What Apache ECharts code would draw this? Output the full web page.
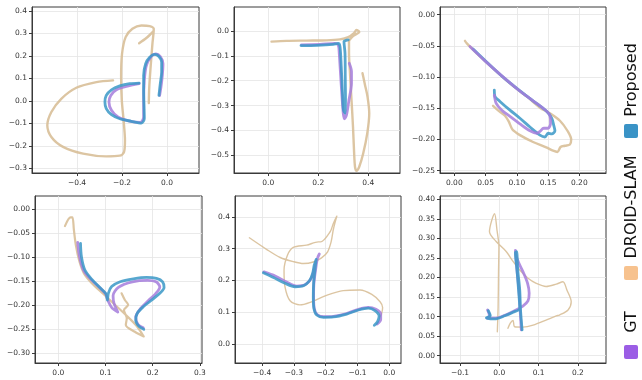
<!DOCTYPE html>
<html>
<head>
<meta charset="utf-8">
<script src="https://cdn.jsdelivr.net/npm/echarts@6/dist/echarts.min.js"></script>
<style>
html,body{margin:0;padding:0;background:#fff;}
#chart{width:642px;height:380px;}
</style>
</head>
<body>
<div id="chart"></div>
<script>
// ---------------- DATA ----------------
const SERIES_NAMES = ['GT', 'DROID-SLAM', 'Proposed'];

// Panel 1 (top-left)
const p1_xticks = [-0.4, -0.2, 0.0];
const p1_yticks = [-0.3, -0.2, -0.1, 0.0, 0.1, 0.2, 0.3, 0.4];
const p1_proposed = [[-0.124,0.080],[-0.166,0.077],[-0.210,0.067],[-0.247,0.050],[-0.270,0.025],[-0.276,-0.004],[-0.270,-0.034],[-0.247,-0.061],[-0.210,-0.079],[-0.159,-0.090],[-0.114,-0.098],[-0.101,-0.078],[-0.102,-0.027],[-0.104,0.047],[-0.104,0.114],[-0.095,0.166],[-0.077,0.195],[-0.055,0.207],[-0.036,0.198],[-0.024,0.173],[-0.024,0.129],[-0.030,0.077],[-0.036,0.025]];
const p1_gt = [[-0.124,0.077],[-0.181,0.065],[-0.225,0.050],[-0.250,0.025],[-0.258,-0.004],[-0.247,-0.041],[-0.218,-0.071],[-0.166,-0.089],[-0.119,-0.095],[-0.104,-0.071],[-0.104,0.003],[-0.101,0.092],[-0.092,0.158],[-0.070,0.198],[-0.050,0.210],[-0.030,0.198],[-0.018,0.166],[-0.021,0.114],[-0.027,0.062],[-0.033,0.025]];
const p1_droid = [[-0.240,0.092],[-0.314,0.084],[-0.403,0.059],[-0.470,0.010],[-0.514,-0.049],[-0.532,-0.108],[-0.514,-0.160],[-0.462,-0.204],[-0.373,-0.234],[-0.270,-0.246],[-0.210,-0.243],[-0.191,-0.226],[-0.187,-0.175],[-0.193,-0.086],[-0.201,0.003],[-0.204,0.107],[-0.200,0.210],[-0.184,0.284],[-0.154,0.321],[-0.114,0.336],[-0.077,0.333],[-0.059,0.321],[-0.065,0.254],[-0.073,0.151],[-0.079,0.062],[-0.081,-0.009],null,[-0.061,0.310],[-0.092,0.280],[-0.124,0.257]];

// Panel 2 (top-middle)
const p2_xticks = [0.0, 0.2, 0.4];
const p2_yticks = [-0.5, -0.4, -0.3, -0.2, -0.1, 0.0];
const p2_proposed = [[0.131,-0.059],[0.196,-0.058],[0.260,-0.054],[0.280,-0.050],[0.287,-0.063],[0.292,-0.143],[0.297,-0.251],[0.301,-0.318],[0.308,-0.331],[0.309,-0.277],[0.308,-0.184],[0.307,-0.090],[0.303,-0.043],[0.320,-0.036]];
const p2_gt = [[0.133,-0.056],[0.207,-0.054],[0.267,-0.050],[0.280,-0.056],[0.284,-0.090],[0.289,-0.170],[0.295,-0.264],[0.300,-0.331],[0.305,-0.353],[0.313,-0.338],[0.323,-0.277],[0.333,-0.210],[0.333,-0.164],[0.324,-0.130]];
const p2_droid = [[0.013,-0.043],[0.073,-0.040],[0.153,-0.039],[0.233,-0.038],[0.287,-0.034],[0.320,-0.025],[0.343,-0.009],[0.353,0.004],[0.364,-0.004],[0.340,-0.020],[0.323,-0.043],[0.323,-0.090],[0.327,-0.170],[0.333,-0.277],[0.339,-0.385],[0.343,-0.479],[0.347,-0.546],[0.353,-0.562],[0.364,-0.546],[0.380,-0.492],[0.396,-0.412],[0.404,-0.331],[0.397,-0.264],[0.387,-0.217],[0.377,-0.170]];

// Panel 3 (top-right)
const p3_xticks = [0.00, 0.05, 0.10, 0.15, 0.20];
const p3_yticks = [-0.25, -0.20, -0.15, -0.10, -0.05, 0.00];
const p3_proposed = [[0.030,-0.055],[0.053,-0.077],[0.078,-0.100],[0.105,-0.122],[0.126,-0.138],[0.148,-0.155],[0.156,-0.166],[0.159,-0.177],[0.161,-0.186],[0.156,-0.191],[0.150,-0.190],[0.145,-0.196],[0.137,-0.193],[0.121,-0.180],[0.105,-0.166],[0.089,-0.153],[0.073,-0.139],[0.065,-0.131],[0.064,-0.121]];
const p3_gt = [[0.025,-0.051],[0.049,-0.074],[0.076,-0.098],[0.102,-0.120],[0.126,-0.138],[0.147,-0.154],[0.153,-0.162],[0.154,-0.174],[0.150,-0.182],[0.143,-0.182],[0.137,-0.187],[0.132,-0.190],[0.121,-0.186],[0.105,-0.175],[0.089,-0.163],[0.076,-0.153],[0.067,-0.142],[0.064,-0.129]];
const p3_droid = [[0.017,-0.042],[0.020,-0.046],[0.036,-0.062],[0.062,-0.086],[0.089,-0.110],[0.116,-0.131],[0.137,-0.149],[0.153,-0.158],[0.169,-0.170],[0.181,-0.186],[0.187,-0.200],[0.185,-0.208],[0.177,-0.210],[0.170,-0.212],[0.165,-0.220],[0.158,-0.218],[0.148,-0.213],[0.126,-0.204],[0.105,-0.193],[0.093,-0.184],[0.087,-0.171],[0.081,-0.162],[0.072,-0.155],[0.062,-0.146]];

// Panel 4 (bottom-left)
const p4_xticks = [0.0, 0.1, 0.2, 0.3];
const p4_yticks = [-0.30, -0.25, -0.20, -0.15, -0.10, -0.05, 0.00];
const p4_proposed = [[0.047,-0.071],[0.049,-0.099],[0.056,-0.126],[0.071,-0.146],[0.088,-0.163],[0.101,-0.176],[0.104,-0.189],[0.106,-0.175],[0.113,-0.161],[0.131,-0.151],[0.159,-0.145],[0.187,-0.142],[0.208,-0.144],[0.221,-0.151],[0.224,-0.163],[0.215,-0.175],[0.198,-0.189],[0.180,-0.203],[0.167,-0.217],[0.164,-0.231],[0.171,-0.244],[0.181,-0.250]];
const p4_gt = [[0.041,-0.069],[0.045,-0.099],[0.053,-0.126],[0.068,-0.145],[0.086,-0.162],[0.100,-0.176],[0.106,-0.192],[0.114,-0.206],[0.126,-0.214],[0.118,-0.196],[0.116,-0.180],[0.128,-0.162],[0.157,-0.151],[0.189,-0.148],[0.207,-0.151],[0.215,-0.162],[0.206,-0.176],[0.190,-0.191],[0.174,-0.207],[0.164,-0.225],[0.169,-0.240],[0.180,-0.247]];
const p4_droid = [[0.014,-0.035],[0.026,-0.017],[0.030,-0.017],[0.033,-0.043],[0.037,-0.074],[0.044,-0.106],[0.054,-0.133],[0.071,-0.154],[0.095,-0.176],[0.120,-0.199],[0.145,-0.222],[0.166,-0.243],[0.181,-0.265],[0.162,-0.255],[0.143,-0.241],[0.145,-0.227],[0.139,-0.210],[0.148,-0.199],[0.141,-0.189],[0.134,-0.175]];

// Panel 5 (bottom-middle)
const p5_xticks = [-0.4, -0.3, -0.2, -0.1, 0.0];
const p5_yticks = [0.0, 0.1, 0.2, 0.3, 0.4];
const p5_proposed = [[-0.396,0.224],[-0.364,0.209],[-0.328,0.191],[-0.296,0.180],[-0.270,0.183],[-0.251,0.199],[-0.241,0.222],[-0.236,0.248],[-0.230,0.266],[-0.234,0.232],[-0.238,0.191],[-0.239,0.149],[-0.237,0.112],[-0.228,0.091],[-0.207,0.084],[-0.176,0.085],[-0.134,0.094],[-0.097,0.107],[-0.066,0.113],[-0.045,0.105],[-0.032,0.088],[-0.037,0.070],[-0.047,0.059]];
const p5_gt = [[-0.394,0.227],[-0.359,0.214],[-0.323,0.195],[-0.291,0.182],[-0.265,0.186],[-0.246,0.205],[-0.237,0.232],[-0.230,0.259],[-0.220,0.283],[-0.226,0.269],[-0.232,0.232],[-0.237,0.191],[-0.238,0.149],[-0.236,0.112],[-0.226,0.092],[-0.205,0.086],[-0.176,0.087],[-0.134,0.096],[-0.097,0.109],[-0.066,0.115],[-0.042,0.109],[-0.027,0.094],[-0.027,0.077],[-0.038,0.063]];
const p5_droid = [[-0.440,0.334],[-0.385,0.297],[-0.343,0.272],[-0.302,0.259],[-0.270,0.253],[-0.239,0.258],[-0.213,0.271],[-0.194,0.290],[-0.183,0.321],[-0.176,0.360],[-0.165,0.402],[-0.176,0.379],[-0.186,0.353],[-0.216,0.321],[-0.223,0.321],[-0.260,0.311],[-0.302,0.304],[-0.320,0.280],[-0.331,0.232],[-0.328,0.180],[-0.312,0.136],[-0.281,0.123],[-0.249,0.131],[-0.197,0.153],[-0.145,0.168],[-0.092,0.170],[-0.055,0.156],[-0.029,0.133],[-0.021,0.115],[-0.024,0.096],[-0.029,0.086]];

// Panel 6 (bottom-right)
const p6_xticks = [-0.1, 0.0, 0.1, 0.2];
const p6_yticks = [0.00, 0.05, 0.10, 0.15, 0.20, 0.25, 0.30, 0.35, 0.40];
const p6_proposed = [[-0.028,0.115],[-0.023,0.102],[-0.033,0.097],[-0.012,0.094],[0.014,0.102],[0.035,0.111],[0.052,0.121],[0.049,0.168],[0.045,0.219],[0.041,0.264],[0.044,0.266],[0.047,0.219],[0.052,0.168],[0.054,0.117],[0.058,0.066]];
const p6_gt = [[-0.030,0.117],[-0.025,0.102],[-0.031,0.096],[-0.009,0.096],[0.016,0.104],[0.039,0.115],[0.060,0.127],[0.073,0.140],[0.076,0.160],[0.072,0.185],[0.062,0.211],[0.050,0.236],[0.042,0.258],[0.041,0.269],[0.045,0.219],[0.050,0.168],[0.053,0.117],[0.056,0.066]];
const p6_droid = [[-0.005,0.061],[-0.003,0.125],[-0.002,0.211],[-0.001,0.279],[-0.006,0.322],[-0.012,0.363],[-0.025,0.317],[-0.008,0.292],[0.018,0.266],[0.035,0.241],[0.052,0.219],[0.073,0.198],[0.094,0.185],[0.119,0.177],[0.145,0.183],[0.162,0.189],[0.172,0.168],[0.183,0.138],[0.175,0.117],[0.153,0.104],[0.145,0.102],[0.119,0.091],[0.086,0.078],[0.060,0.073],[0.039,0.074],[0.035,0.090],[0.028,0.083],[0.022,0.070]];

// ---------------- LAYOUT / STYLE ----------------
const panels = [
  {grid:{left:32, top:7, width:167, height:166}, x:[-0.600,0.142], y:[-0.320,0.418], xt:p1_xticks, yt:p1_yticks, xd:1, yd:1, d:[p1_gt,p1_droid,p1_proposed], dw:2.4, gtTop:false},
  {grid:{left:234, top:7, width:166, height:166}, x:[-0.137,0.527], y:[-0.571,0.096], xt:p2_xticks, yt:p2_yticks, xd:1, yd:1, d:[p2_gt,p2_droid,p2_proposed], dw:2.4, gtTop:false},
  {grid:{left:440, top:7, width:166, height:166}, x:[-0.0229,0.2427], y:[-0.2537,0.0123], xt:p3_xticks, yt:p3_yticks, xd:2, yd:2, d:[p3_gt,p3_droid,p3_proposed], dw:2.4, gtTop:true},
  {grid:{left:35, top:196, width:167, height:167}, x:[-0.0494,0.3044], y:[-0.3202,0.0277], xt:p4_xticks, yt:p4_yticks, xd:1, yd:2, d:[p4_gt,p4_droid,p4_proposed], dw:2.2, gtTop:false},
  {grid:{left:235, top:196, width:166, height:167}, x:[-0.4852,0.0368], y:[-0.0597,0.4654], xt:p5_xticks, yt:p5_yticks, xd:1, yd:1, d:[p5_gt,p5_droid,p5_proposed], dw:1.4, gtTop:false},
  {grid:{left:440, top:196, width:166, height:167}, x:[-0.1509,0.2715], y:[-0.0187,0.4084], xt:p6_xticks, yt:p6_yticks, xd:1, yd:2, d:[p6_gt,p6_droid,p6_proposed], dw:1.4, gtTop:false}
];

const LINE_COLORS = {'GT':'#a57ddc', 'DROID-SLAM':'#d8bf98', 'Proposed':'#3a98c7'};
const LEGEND_COLORS = {'GT':'#9b5de5', 'DROID-SLAM':'#f7c28e', 'Proposed':'#3a93c6'};
const FONT = 'DejaVu Sans';

function fmt(dec){ return function(v){ return Number(v).toFixed(dec).replace('-', '\u2212'); }; }

const option = {
  animation:false,
  backgroundColor:'#ffffff',
  grid:[], xAxis:[], yAxis:[], series:[], graphic:[]
};

panels.forEach(function(p, i){
  option.grid.push(Object.assign({show:true, borderColor:'#3a3a3a', borderWidth:1, backgroundColor:'transparent', containLabel:false}, p.grid));
  const common = {
    type:'value', gridIndex:i,
    axisLine:{show:true, onZero:false, lineStyle:{color:'#3a3a3a', width:1}},
    axisTick:{show:true, length:3, inside:false, lineStyle:{color:'#3a3a3a', width:1}},
    splitLine:{show:true, lineStyle:{color:'#e4e4e4', width:0.8}}
  };
  option.xAxis.push(Object.assign({}, common, {
    min:p.x[0], max:p.x[1],
    axisTick:Object.assign({}, common.axisTick, {customValues:p.xt}),
    axisLabel:{customValues:p.xt, formatter:fmt(p.xd), fontFamily:FONT, fontSize:7.5, color:'#333', margin:6}
  }));
  option.yAxis.push(Object.assign({}, common, {
    min:p.y[0], max:p.y[1],
    axisTick:Object.assign({}, common.axisTick, {customValues:p.yt}),
    axisLabel:{customValues:p.yt, formatter:fmt(p.yd), fontFamily:FONT, fontSize:7.5, color:'#333', margin:5}
  }));
  SERIES_NAMES.forEach(function(name, k){
    let z = (k===1) ? 1 : (k===0 ? (p.gtTop ? 4 : 2) : 3);
    option.series.push({
      name:name, type:'line', xAxisIndex:i, yAxisIndex:i,
      data:p.d[k], showSymbol:false, symbol:'none', smooth:0.3, connectNulls:false,
      clip:true, z:z,
      lineStyle:{color:LINE_COLORS[name], width:(k===1?p.dw:2.8), opacity:(k===1?0.9:0.85), cap:'round', join:'round'}
    });
  });
});

// rotated legend on the right side
const legendItems = [
  {name:'Proposed', cy:80, sq:124},
  {name:'DROID-SLAM', cy:207, sq:266},
  {name:'GT', cy:322, sq:345}
];
legendItems.forEach(function(it){
  option.graphic.push({
    type:'rect', shape:{x:624, y:it.sq, width:14, height:14, r:2},
    style:{fill:LEGEND_COLORS[it.name]}
  });
  option.graphic.push({
    type:'text', x:632, y:it.cy, rotation:Math.PI/2,
    style:{text:it.name, font:'16px "DejaVu Sans"', fill:'#111', align:'center', verticalAlign:'middle', textAlign:'center', textVerticalAlign:'middle'}
  });
});

const chart = echarts.init(document.getElementById('chart'), null, {renderer:'canvas'});
chart.setOption(option);
</script>
</body>
</html>
